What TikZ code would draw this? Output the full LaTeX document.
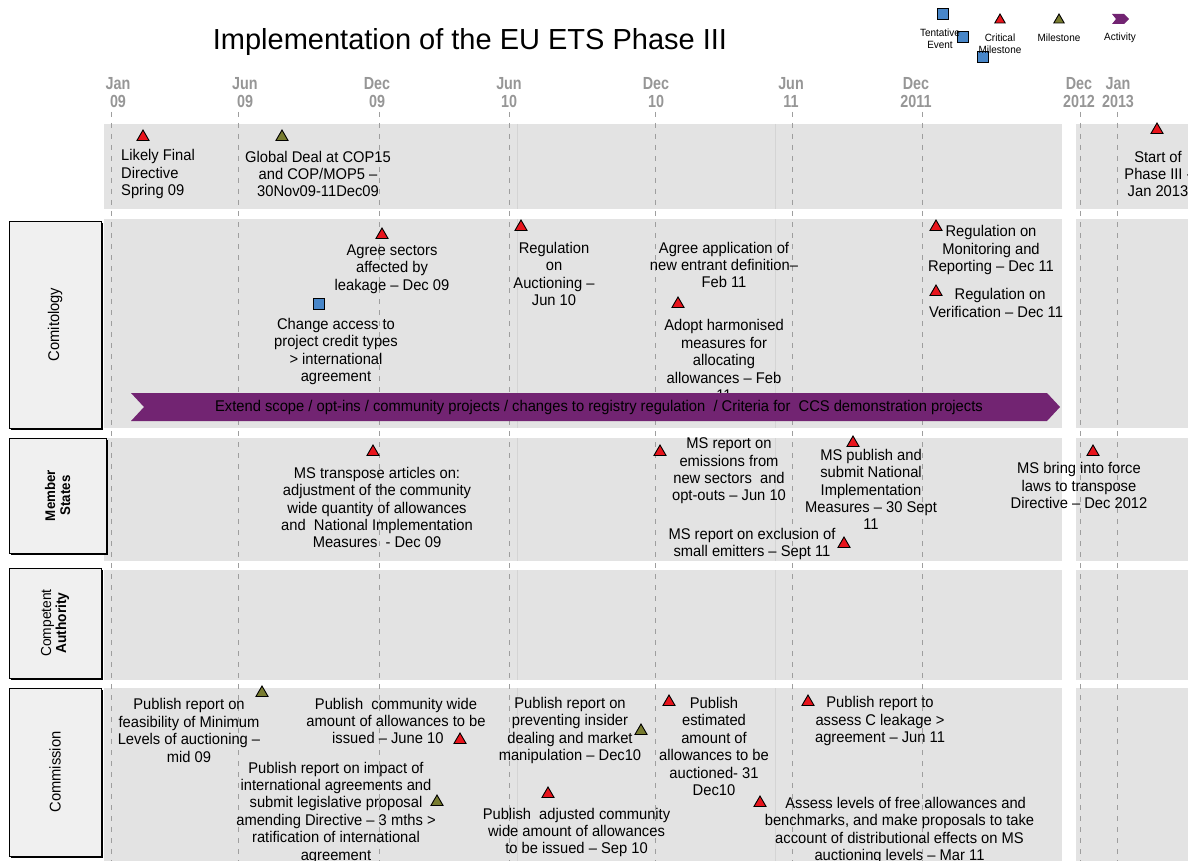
\documentclass[tikz,border=0pt]{standalone}
\usepackage{fontspec}
\setmainfont[FakeStretch=0.95]{Liberation Sans}
\setsansfont[FakeStretch=0.95]{Liberation Sans}
\newfontfamily\titlefont{Liberation Sans}
\newfontfamily\axisfont[FakeStretch=0.82]{Liberation Sans}
\usetikzlibrary{shapes.geometric,shadows}

\definecolor{lanegrey}{RGB}{227,227,227}
\definecolor{boxgrey}{RGB}{240,240,240}
\definecolor{critred}{RGB}{232,20,28}
\definecolor{mileolive}{RGB}{120,124,48}
\definecolor{tentblue}{RGB}{72,134,200}
\definecolor{actpurple}{RGB}{114,36,114}
\definecolor{gridgrey}{RGB}{158,158,158}
\definecolor{axisgrey}{RGB}{150,150,150}

\begin{document}
\begin{tikzpicture}[x=1pt,y=-1pt,
		crit/.style={regular polygon, regular polygon sides=3, minimum size=14pt,
			inner sep=0pt, draw=black, line width=0.9pt, fill=critred},
		mile/.style={crit, fill=mileolive},
		tent/.style={rectangle, minimum size=11pt, inner sep=0pt, draw=black,
			line width=0.9pt, fill=tentblue},
		evtext/.style={align=center, inner sep=0pt, font=\fontsize{15.5}{17.4}\selectfont},
		keytext/.style={align=center, inner sep=0pt, font=\fontsize{10.5}{12}\selectfont},
		axislabel/.style={align=center, inner sep=0pt, text=axisgrey,
			font=\axisfont\bfseries\fontsize{17.5}{17}\selectfont},
		lanebox/.style={draw=black, line width=0.8pt, fill=boxgrey, inner sep=0pt,
			drop shadow={shadow xshift=1.6pt, shadow yshift=-1.6pt, opacity=1, fill=black}},
		lanename/.style={rotate=90, align=center, inner sep=0pt, font=\fontsize{15.5}{16}\selectfont},
		gridline/.style={gridgrey, line width=0.9pt, dash pattern=on 5pt off 6pt},
		faint/.style={draw={rgb,255:red,212;green,212;blue,212}, line width=0.7pt}]
	\useasboundingbox (0,0) rectangle (1188,861);

	% swim lanes
	\foreach \top/\bot in {124/209, 219/428, 438/561, 570/680, 688/861} {
		\fill[lanegrey] (104,\top) rectangle (1062,\bot);
		\fill[lanegrey] (1076,\top) rectangle (1188,\bot);
		\draw[faint] (517,\top) -- (517,\bot) (775,\top) -- (775,\bot);
	}
	\foreach \x in {111,238,379,509,655,792,922,1080,1117}
		\draw[gridline] (\x,112) -- (\x,861);

	% time axis
	\foreach \x/\m/\yr [count=\i] in {118/Jan/09, 245/Jun/09, 377/Dec/09, 509/Jun/10,
			656/Dec/10, 791/Jun/11, 916/Dec/2011, 1079/Dec/2012, 1118/Jan/2013}
		\node[axislabel] (tick\i) at (\x,95) {\strut\m\\\strut\yr};

	\node[font=\titlefont\fontsize{29}{34}\selectfont] (title) at (470,42)
		{Implementation of the EU ETS Phase III};

	% key
	\node[tent] (keytent1) at (943,14) {};
	\node[tent] (keytent2) at (963,37) {};
	\node[tent] (keytent3) at (983,57) {};
	\node[keytext] (keytentlabel) at (940,39) {Tentative\\Event};
	\node[crit, minimum size=12pt] (keycrit) at (1000,20) {};
	\node[keytext] (keycritlabel) at (1000,44) {Critical\\Milestone};
	\node[mile, minimum size=12pt] (keymile) at (1059,20) {};
	\node[keytext] (keymilelabel) at (1059,38) {Milestone};
	\fill[actpurple] (1112,14) -- (1124,14) -- (1129,19) -- (1124,24) -- (1112,24) -- (1116,19) -- cycle;
	\node[keytext] (keyactlabel) at (1120,38) {Activity};

	% lane names
	\node[lanebox, minimum width=92pt, minimum height=207pt] (comitology) at (55,324.5) {};
	\node[lanename] at (comitology) {Comitology};
	\node[lanebox, minimum width=97pt, minimum height=115pt] (states) at (57.5,495.5) {};
	\node[lanename, font=\bfseries\fontsize{14}{15}\selectfont] at (states) {Member\\States};
	\node[lanebox, minimum width=92pt, minimum height=110pt] (authority) at (55,623) {};
	\node[lanename, font=\fontsize{14.5}{15}\selectfont] at (authority) {Competent\\\textbf{Authority}};
	\node[lanebox, minimum width=92pt, minimum height=168pt] (commission) at (55,772) {};
	\node[lanename] at (commission) {Commission};

	% top row
	\node[crit] (directive) at (143,137) {};
	\node[evtext, align=left, anchor=west] at (121,174) {Likely Final\\Directive\\Spring 09};
	\node[mile] (cop15) at (282,137) {};
	\node[evtext] at (318,174) {Global Deal at COP15\\and COP/MOP5 –\\30Nov09-11Dec09};
	\node[crit] (phase3) at (1157,130) {};
	\node[evtext] at (1158,174) {Start of\\Phase III -\\Jan 2013};

	% comitology
	\node[crit] (leakage) at (382,235) {};
	\node[evtext] at (392,269) {Agree sectors\\affected by\\leakage – Dec 09};
	\node[tent] (credits) at (319,304) {};
	\node[evtext] at (336,351.5) {Change access to\\project credit types\\> international\\agreement};
	\node[crit] (auctioning) at (521,227) {};
	\node[evtext] at (554,274) {Regulation\\on\\Auctioning –\\Jun 10};
	\node[evtext] (entrant) at (724,265) {Agree application of\\new entrant definition–\\Feb 11};
	\node[crit] (harmonised) at (678,304) {};
	\node[evtext] at (724,360) {Adopt harmonised\\measures for\\allocating\\allowances – Feb\\11};
	\node[crit] (monitoring) at (936,227) {};
	\node[evtext] at (991,250) {Regulation on\\Monitoring and\\Reporting – Dec 11};
	\node[crit] (verification) at (936,292) {};
	\node[evtext] at (996,303) {\ \ Regulation on\\Verification – Dec 11};

	% activity bar
	\fill[actpurple] (131,393) -- (1047,393) -- (1060,407) -- (1047,421) -- (131,421)
		-- (144,407) -- cycle;
	\node[evtext] (scope) at (599,407) {Extend scope / opt-ins / community projects / changes
		to registry regulation\ \ / Criteria for\ \ CCS demonstration projects};

	% member states
	\node[crit] (transpose) at (373,452) {};
	\node[evtext] at (377,507.5) {MS transpose articles on:\\adjustment of the community\\wide
		quantity of allowances\\and\ \ National Implementation\\Measures\ \ - Dec 09};
	\node[crit] (emissions) at (660,452) {};
	\node[evtext] at (729,471) {MS report on\\emissions from\\new sectors\ \ and\\opt-outs – Jun 10};
	\node[crit] (nim) at (853,443) {};
	\node[evtext] at (871,489.5) {MS publish and\\submit National\\Implementation\\Measures – 30 Sept\\11};
	\node[crit] (laws) at (1093,452) {};
	\node[evtext] at (1079,485.5) {MS bring into force\\laws to transpose\\Directive – Dec 2012};
	\node[crit] (emitters) at (844,544) {};
	\node[evtext] at (752,544) {MS report on exclusion of\\small emitters – Sept 11};

	% commission
	\node[mile] (minimum) at (262,693) {};
	\node[evtext] at (189,730.5) {Publish report on\\feasibility of Minimum\\Levels of auctioning –\\mid 09};
	\node[evtext] at (396,721) {Publish\ \ community wide\\amount of allowances to be\\issued – June 10\ \ \ \ \ };
	\node[crit] (communitywide) at (460,740) {};
	\node[evtext] at (336,812.5) {Publish report on impact of\\international agreements and\\submit
		legislative proposal\\amending Directive – 3 mths >\\ratification of international\\agreement};
	\node[mile] (impact) at (437,802) {};
	\node[evtext] at (570,730.5) {Publish report on\\preventing insider\\dealing and market\\manipulation – Dec10};
	\node[mile] (insider) at (641,731) {};
	\node[crit] (adjusted) at (548,794) {};
	\node[evtext] at (576.5,832.5) {Publish\ \ adjusted community\\wide amount of allowances\\to be issued – Sep 10};
	\node[crit] (estimated) at (669,702) {};
	\node[evtext] at (714,746.5) {Publish\\estimated\\amount of\\allowances to be\\auctioned- 31\\Dec10};
	\node[crit] (cleakage) at (808,702) {};
	\node[evtext] at (880,721) {Publish report to\\assess C leakage >\\agreement – Jun 11};
	\node[crit] (freealloc) at (760,803) {};
	\node[evtext] at (899.5,830.5) {\ \ \ Assess levels of free allowances and\\benchmarks, and make
		proposals to take\\account of distributional effects on MS\\auctioning levels – Mar 11};
\end{tikzpicture}
\end{document}
